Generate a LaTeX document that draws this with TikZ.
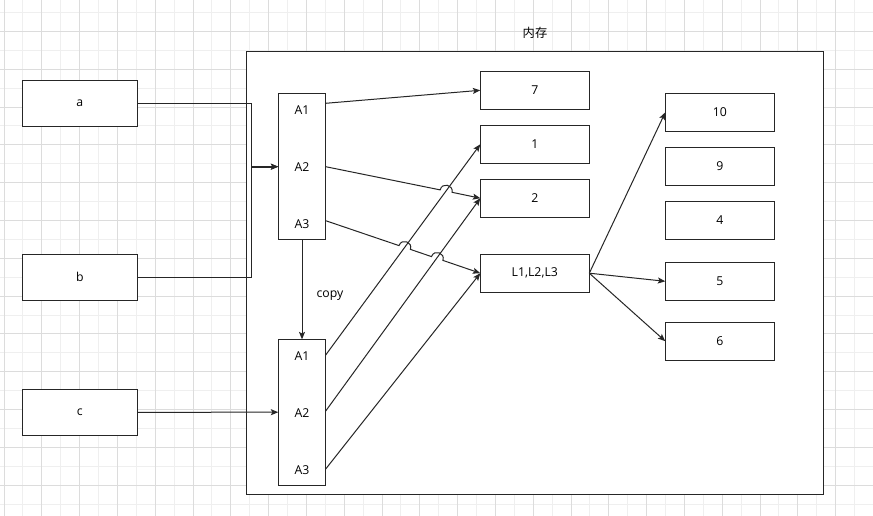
\documentclass[tikz,border=0pt]{standalone}
\usepackage{fontspec}
\setmainfont{Open Sans}
\newfontfamily\cjk{Noto Sans CJK SC}
\usetikzlibrary{arrows.meta}
\definecolor{linec}{HTML}{262626}
\definecolor{minorg}{HTML}{EFEFEF}
\definecolor{majorg}{HTML}{DCDCDC}
\tikzset{
  lbl/.style={inner sep=0pt, font=\fontsize{9.2pt}{11pt}\selectfont, text=black},
  box/.style={draw=linec, fill=white, line width=0.75pt, outer sep=0pt, inner sep=0pt,
              font=\fontsize{9.2pt}{11pt}\selectfont, text=black},
  inbox/.style={box, minimum width={109*0.75pt}, minimum height={38*0.75pt}},
  srcbox/.style={box, minimum width={115*0.75pt}, minimum height={46*0.75pt}},
  abox/.style={box, minimum width={47.4*0.75pt}, minimum height={146*0.75pt}},
  conn/.style={draw=linec, line width=0.75pt},
  arr/.style={conn, -{Stealth[length=5.6pt,width=4.5pt,inset=1.2pt]}},
  minorline/.style={draw=minorg, line width=0.75pt},
  majorline/.style={draw=majorg, line width=0.75pt}
}
\begin{document}
\begin{tikzpicture}[x=0.75pt,y=-0.75pt]
\useasboundingbox (0,0) rectangle (873,516);
\fill[white] (0,0) rectangle (873,516);
% grid
\foreach \k in {0,...,22} \draw[minorline] ({22.9+37.8*\k},0) -- ({22.9+37.8*\k},516);
\foreach \k in {0,...,13} \draw[minorline] (0,{12.6+37.8*\k}) -- (873,{12.6+37.8*\k});
\foreach \k in {0,...,22} \draw[majorline] ({4+37.8*\k},0) -- ({4+37.8*\k},516);
\foreach \k in {0,...,12} \draw[majorline] (0,{31.5+37.8*\k}) -- (873,{31.5+37.8*\k});

% memory area
\node[box, minimum width={577*0.75pt}, minimum height={442.7*0.75pt}] (mem) at (534.8,272.7) {};
\node[lbl] (memlbl) at (535,32.5) {\cjk 内存};

% sources
\node[srcbox] (a) at (79.8,103.3) {a};
\node[srcbox] (b) at (79.8,277.3) {b};
\node[srcbox] (c) at (79.8,412.3) {c};

% A boxes
\node[abox] (Atop) at (302,166.3) {};
\node[lbl] (At1) at (302,110) {A1};
\node[lbl] (At2) at (302,167) {A2};
\node[lbl] (At3) at (302,224) {A3};
\node[abox, minimum height={145.7*0.75pt}] (Abot) at (302,412.2) {};
\node[lbl] (Ab1) at (302,356) {A1};
\node[lbl] (Ab2) at (302,412.7) {A2};
\node[lbl] (Ab3) at (302,470) {A3};
\node[lbl] (copy) at (330,295.5) {copy};

% middle boxes
\node[inbox] (n7) at (534.8,90.3) {7};
\node[inbox] (n1) at (534.8,144.3) {1};
\node[inbox] (n2) at (534.8,198.2) {2};
\node[inbox] (nL) at (534.8,273.2) {L1,L2,L3};

% right boxes
\node[inbox] (n10) at (719.8,112.3) {10};
\node[inbox] (n9) at (719.8,166.3) {9};
\node[inbox] (n4) at (719.8,220.3) {4};
\node[inbox] (n5) at (719.8,281.3) {5};
\node[inbox] (n6) at (719.8,341.2) {6};

% connector start points on the A boxes
\coordinate (st1) at (325.7,103.3);
\coordinate (st2) at (325.7,166.7);
\coordinate (st3) at (325.7,220.7);
\coordinate (sb1) at (325.7,355);
\coordinate (sb2) at (325.7,411);
\coordinate (sb3) at (325.7,469);
\coordinate (ja) at (251.3,103.3);
\coordinate (jb) at (251.3,277.3);
\coordinate (jm) at (251.3,166.7);

% source connectors (a and b merge into one thicker arrow)
\draw[arr] (a.east) -- (ja) -- (jm) -- (Atop.west |- jm);
\draw[arr] (b.east) -- (jb) -- (jm) -- (Atop.west |- jm);
\draw[conn, line width=1.5pt] (jm) -- ([xshift=-4pt]Atop.west |- jm);
\draw[arr] (c.east) -- (Abot.west);
\draw[arr] (Atop.south) -- (Abot.north);

% bottom A to middle
\draw[arr] (sb1) -- (n1.west);
\draw[arr] (sb2) -- (n2.west);
\draw[arr] (sb3) -- (nL.west);

% top A to middle (with line jumps)
\draw[arr] (st1) -- (n7.west);
\draw[arr] (st2) -- (440.2,189.9) .. controls (441.8,182.1) and (453.6,184.5) .. (452.0,192.3) -- (n2.west);
\draw[arr] (st3) -- (399.0,245.6) .. controls (401.6,238.0) and (413.0,241.8) .. (410.4,249.4)
  -- (431.5,256.6) .. controls (434.1,249.0) and (445.5,252.8) .. (442.9,260.4) -- (nL.west);

% L to right
\draw[arr] (nL.east) -- (n10.west);
\draw[arr] (nL.east) -- (n5.west);
\draw[arr] (nL.east) -- (n6.west);
\end{tikzpicture}
\end{document}
